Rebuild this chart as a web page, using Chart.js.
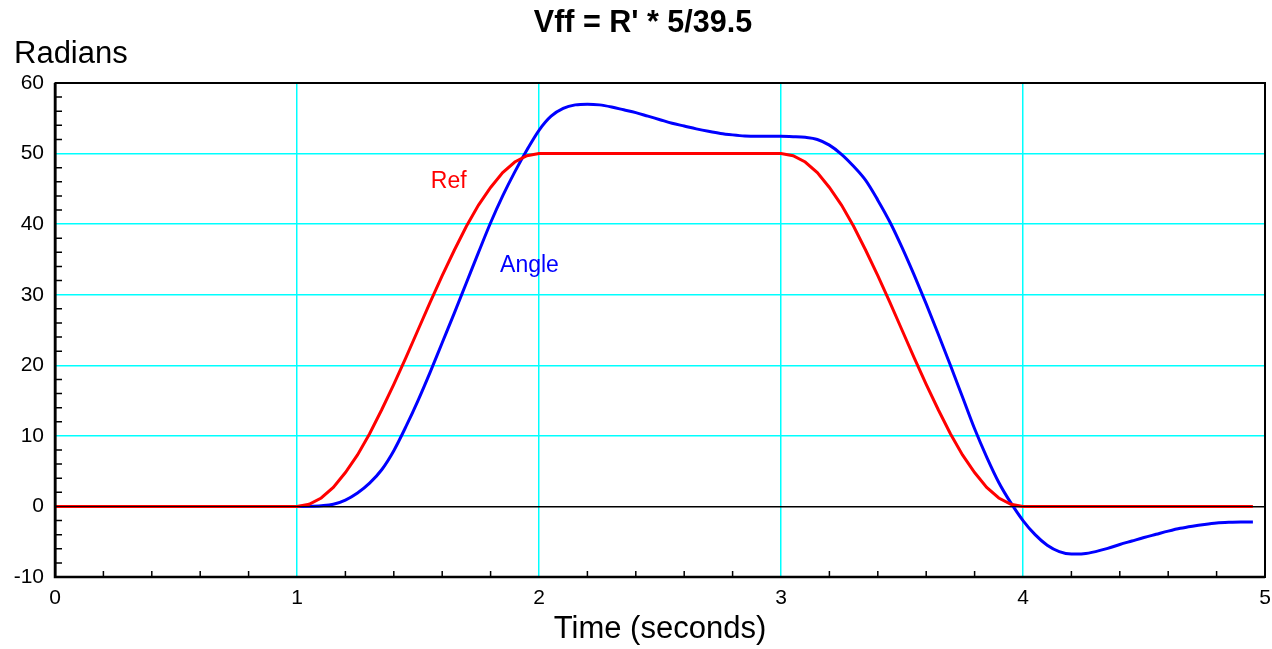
<!DOCTYPE html>
<html>
<head>
<meta charset="utf-8">
<title>Vff = R' * 5/39.5</title>
<script src="https://cdn.jsdelivr.net/npm/chart.js@4.4.1/dist/chart.umd.min.js"></script>
<style>
  html, body { margin: 0; padding: 0; background: #ffffff; }
  canvas { display: block; }
</style>
</head>
<body>
<canvas id="plot" width="1272" height="649"></canvas>
<script>
// Sample times (seconds)
const timeSec = [
  0, 0.5, 1.0,
  1.05, 1.1, 1.15, 1.2, 1.25, 1.3, 1.35, 1.4, 1.45, 1.5,
  1.55, 1.6, 1.65, 1.7, 1.75, 1.8, 1.85, 1.9, 1.95, 2.0,
  2.05, 2.1, 2.15, 2.2, 2.25, 2.3, 2.35, 2.4, 2.45, 2.5,
  2.55, 2.6, 2.65, 2.7, 2.75, 2.8, 2.85, 2.9, 2.95, 3.0,
  3.05, 3.1, 3.15, 3.2, 3.25, 3.3, 3.35, 3.4, 3.45, 3.5,
  3.55, 3.6, 3.65, 3.7, 3.75, 3.8, 3.85, 3.9, 3.95, 4.0,
  4.05, 4.1, 4.15, 4.2, 4.25, 4.3, 4.35, 4.4, 4.45, 4.5,
  4.55, 4.6, 4.65, 4.7, 4.75, 4.8, 4.85, 4.9, 4.95
];

// Reference trajectory (radians)
const refRad = [
  0, 0, 0,
  0.3, 1.2, 2.7, 4.8, 7.3, 10.3, 13.7, 17.3, 21.1, 25.0,
  28.9, 32.7, 36.3, 39.7, 42.7, 45.2, 47.3, 48.8, 49.7, 50.0,
  50, 50, 50, 50, 50, 50, 50, 50, 50, 50,
  50, 50, 50, 50, 50, 50, 50, 50, 50, 50,
  49.7, 48.8, 47.3, 45.2, 42.7, 39.7, 36.3, 32.7, 28.9, 25.0,
  21.1, 17.3, 13.7, 10.3, 7.3, 4.8, 2.7, 1.2, 0.3, 0,
  0, 0, 0, 0, 0, 0, 0, 0, 0, 0,
  0, 0, 0, 0, 0, 0, 0, 0, 0
];

// Measured angle (radians)
const angleRad = [
  0, 0, 0,
  0.02, 0.1, 0.3, 0.9, 1.9, 3.3, 5.2, 7.9, 11.3, 15.0,
  19.0, 23.2, 27.4, 31.7, 36.0, 40.2, 44.0, 47.4, 50.5, 53.3,
  55.3, 56.4, 56.9, 57.0, 56.9, 56.6, 56.2, 55.8, 55.3, 54.8,
  54.3, 53.9, 53.5, 53.15, 52.85, 52.65, 52.5, 52.45, 52.45, 52.45,
  52.4, 52.3, 52.0, 51.2, 49.9, 48.2, 46.2, 43.4, 40.3, 36.7,
  32.8, 28.7, 24.4, 20.0, 15.5, 11.0, 7.0, 3.4, 0.5, -2.0,
  -4.0, -5.5, -6.4, -6.75, -6.7, -6.4, -5.95, -5.4, -4.9, -4.4,
  -3.95, -3.5, -3.1, -2.8, -2.55, -2.35, -2.25, -2.2, -2.2
];

// Axis tick labels
const xTicks = [0, 1, 2, 3, 4, 5];
const yTicks = [-10, 0, 10, 20, 30, 40, 50, 60];

// In-plot series captions: [text, time, radians, colour]
const captions = [
  ['Ref', 1.553, 46.0, '#ff0000'],
  ['Angle', 1.839, 34.1, '#0000ff']
];

const FONT = '"Liberation Sans", Arial, Helvetica, sans-serif';
const CYAN = '#00ffff';
Chart.defaults.font.family = FONT;
Chart.defaults.color = '#000000';

// Frame, inward minor ticks, zero line overlay and series captions
const framePlugin = {
  id: 'frame',
  afterDatasetsDraw(chart) {
    const { ctx, chartArea: a, scales: { x, y } } = chart;
    ctx.save();
    // zero line drawn over the traces
    const y0 = y.getPixelForValue(0);
    ctx.strokeStyle = 'rgba(0,0,0,0.9)';
    ctx.lineWidth = 1;
    ctx.beginPath();
    ctx.moveTo(a.left, Math.round(y0) + 0.5);
    ctx.lineTo(a.right, Math.round(y0) + 0.5);
    ctx.stroke();

    // minor ticks
    ctx.strokeStyle = '#000';
    ctx.lineWidth = 1.5;
    ctx.beginPath();
    for (let v = -8; v < 60; v += 2) {
      if (v % 10 === 0) continue;
      const py = y.getPixelForValue(v);
      ctx.moveTo(a.left, py);
      ctx.lineTo(a.left + 7, py);
    }
    for (let k = 1; k < 25; k++) {
      if (k % 5 === 0) continue;
      const px = x.getPixelForValue(k * 0.2);
      ctx.moveTo(px, a.bottom);
      ctx.lineTo(px, a.bottom - 6);
    }
    ctx.stroke();

    // frame
    ctx.lineWidth = 2;
    ctx.strokeRect(a.left + 0.5, a.top, a.right - a.left - 0.5, a.bottom - a.top);
    ctx.lineWidth = 2.5;
    ctx.beginPath();
    ctx.moveTo(a.left, a.top);
    ctx.lineTo(a.left, a.bottom);
    ctx.lineTo(a.right, a.bottom);
    ctx.stroke();

    // captions
    ctx.font = '23px ' + FONT;
    ctx.textAlign = 'left';
    ctx.textBaseline = 'middle';
    for (const [text, t, v, col] of captions) {
      ctx.fillStyle = col;
      ctx.fillText(text, x.getPixelForValue(t), y.getPixelForValue(v));
    }
    ctx.restore();
  }
};

const toPoints = vals => vals.map((v, i) => ({ x: timeSec[i], y: v }));

new Chart(document.getElementById('plot'), {
  type: 'line',
  data: {
    datasets: [
      {
        label: 'Ref',
        data: toPoints(refRad),
        borderColor: '#ff0000',
        borderWidth: 3,
        pointRadius: 0,
        tension: 0,
        fill: false
      },
      {
        label: 'Angle',
        data: toPoints(angleRad),
        borderColor: '#0000ff',
        borderWidth: 3,
        pointRadius: 0,
        cubicInterpolationMode: 'monotone',
        fill: false
      }
    ]
  },
  options: {
    responsive: false,
    animation: false,
    events: [],
    layout: { padding: { left: 14, right: 0, top: 0, bottom: 0 } },
    plugins: {
      legend: { display: false },
      tooltip: { enabled: false },
      title: {
        display: true,
        text: "Vff = R' * 5/39.5",
        color: '#000',
        font: { size: 30.5, weight: 'bold', lineHeight: 1.0 },
        padding: { top: 8, bottom: 0 }
      },
      subtitle: {
        display: true,
        text: 'Radians',
        align: 'start',
        color: '#000',
        font: { size: 31, lineHeight: 1.0 },
        padding: { top: 0, bottom: 13.5 }
      }
    },
    scales: {
      x: {
        type: 'linear',
        min: 0,
        max: 5,
        afterBuildTicks: s => { s.ticks = xTicks.map(v => ({ value: v })); },
        ticks: { color: '#000', font: { size: 21 }, padding: 9, maxRotation: 0, autoSkip: false },
        grid: {
          drawTicks: false,
          lineWidth: 1.5,
          color: c => (c.tick && c.tick.value > 0 && c.tick.value < 5) ? CYAN : 'rgba(0,0,0,0)'
        },
        border: { display: false },
        title: {
          display: true,
          text: 'Time (seconds)',
          color: '#000',
          font: { size: 31 },
          padding: { top: 0, bottom: 1 }
        },
        afterFit: s => { s.height = 72; s.paddingRight = 7; s.paddingLeft = 0; }
      },
      y: {
        type: 'linear',
        min: -10,
        max: 60,
        afterBuildTicks: s => { s.ticks = yTicks.map(v => ({ value: v })); },
        ticks: { color: '#000', font: { size: 21 }, padding: 11, autoSkip: false },
        grid: {
          drawTicks: false,
          lineWidth: 1.5,
          color: c => {
            const v = c.tick ? c.tick.value : null;
            if (v === 0) return '#000';
            return (v > 0 && v < 60) ? CYAN : 'rgba(0,0,0,0)';
          }
        },
        border: { display: false },
        afterFit: s => { s.width = 41; }
      }
    }
  },
  plugins: [framePlugin]
});
</script>
</body>
</html>
